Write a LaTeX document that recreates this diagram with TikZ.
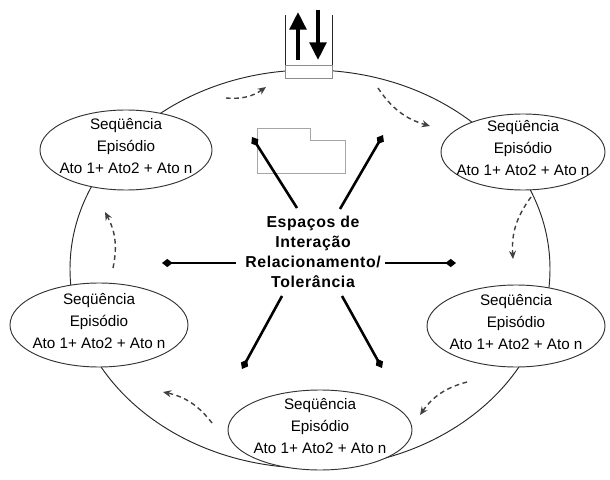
\documentclass[tikz,border=0pt]{standalone}
\usepackage{fontspec}
\setmainfont{Liberation Sans}
\usetikzlibrary{arrows.meta}

\begin{document}
\begin{tikzpicture}[x=0.03cm,y=-0.03cm,>=Stealth,inner sep=0pt,
  ciclo/.style={draw=black!85,line width=0.8pt},
  bolha/.style={draw=black!80,line width=0.8pt,fill=white},
  seqtext/.style={align=center,font=\fontsize{13}{19}\selectfont},
  centro/.style={align=center,font=\fontsize{13.5}{17}\selectfont\bfseries\addfontfeature{LetterSpace=4}},
  fluxo/.style={-{Stealth[length=7pt,width=6pt]},draw=black!75,line width=1.2pt,dash pattern=on 4pt off 3pt},
  raio/.style={line width=2.2pt,-{Diamond[length=9pt,width=7pt]}},
  seta/.style={line width=3.4pt,-{Triangle[length=15pt,width=14pt]}}]
  \useasboundingbox (0,0) rectangle (610,480);
  % grande ciclo
  \draw[ciclo] (310,269) ellipse [x radius=240,y radius=199];
  % entrada / saida
  \draw[ciclo] (285,65) -- (285,15) (332,65) -- (332,15);
  \draw[draw=black!45,fill=white,line width=0.6pt] (285,65) rectangle (332,78);
  \draw[seta] (298,60) -- (298,12);
  \draw[seta] (318,10) -- (318,60);
  % pasta vazia
  \draw[black!35,line width=0.6pt] (257,128) -- (310,128) -- (310,140) -- (345,140)
    -- (345,173) -- (257,173) -- cycle;
  % sequencias
  \foreach \n/\p/\rx/\ry in {a/{126,150}/86/40, b/{523,152}/82/38, c/{99,325}/89/42,
                             d/{516,326}/89/41, e/{320,430}/92/40}
    {
      \draw[bolha] (\p) ellipse [x radius=\rx,y radius=\ry];
      \node[seqtext] (seq\n) at ([yshift=0.12cm]\p) {Seqüência\\Episódio\\Ato 1+ Ato2 + Ato n};
    }
  % centro
  \node[centro] (espacos) at (313,252) {Espaços de\\Interação\\Relacionamento/\\Tolerância};
  \coordinate (ul0) at (297,208); \coordinate (ul1) at (252,137);
  \coordinate (ur0) at (340,209); \coordinate (ur1) at (383,135);
  \coordinate (l0) at (236,263);  \coordinate (l1) at (162,263);
  \coordinate (r0) at (385,263);  \coordinate (r1) at (456,263);
  \coordinate (dl0) at (282,296); \coordinate (dl1) at (242,369);
  \coordinate (dr0) at (342,296); \coordinate (dr1) at (382,368);
  \foreach \s in {ul,ur,l,r,dl,dr}
    \draw[raio] (\s0) -- (\s1);
  % fluxo do ciclo
  \coordinate (f1a) at (226,98);  \coordinate (f1b) at (266,87);
  \coordinate (f2a) at (378,88);  \coordinate (f2b) at (430,126);
  \coordinate (f3a) at (531,197); \coordinate (f3b) at (513,259);
  \coordinate (f4a) at (467,382); \coordinate (f4b) at (420,415);
  \coordinate (f5a) at (212,423); \coordinate (f5b) at (163,392);
  \coordinate (f6a) at (113,268); \coordinate (f6b) at (105,212);
  \foreach \f in {1,...,6}
    \draw[fluxo] (f\f a) to[bend right=20] (f\f b);
\end{tikzpicture}
\end{document}
